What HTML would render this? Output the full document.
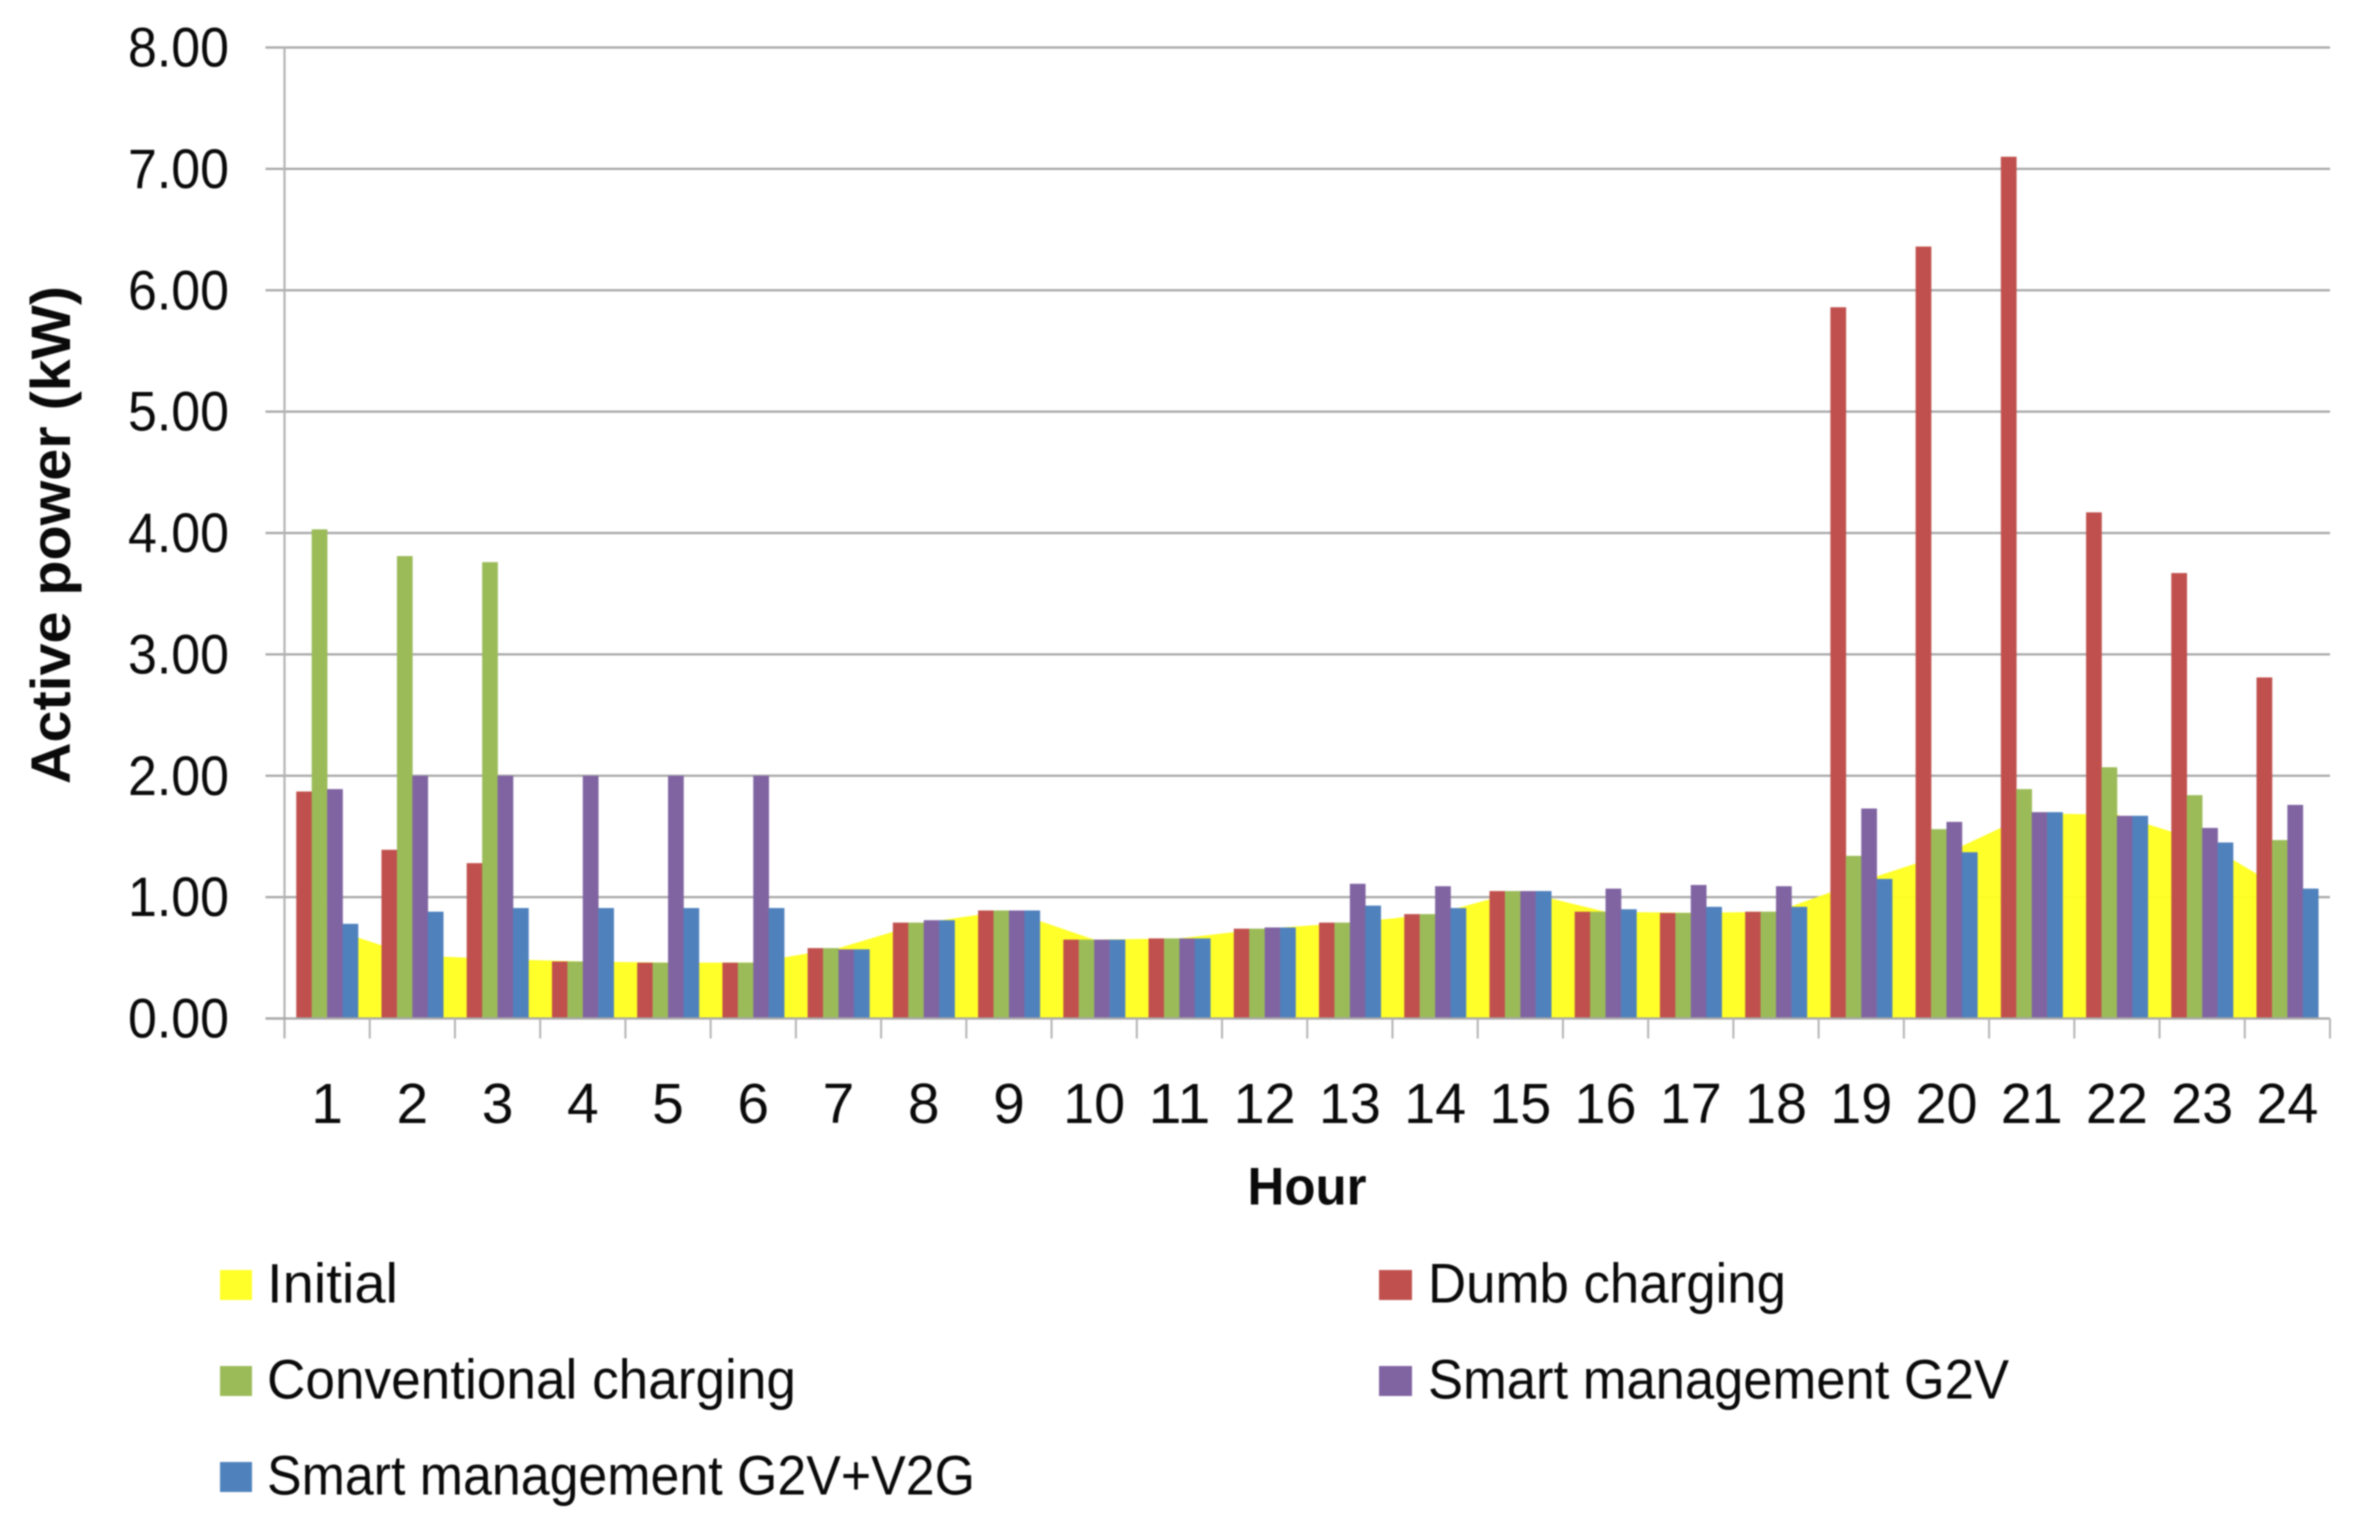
<!DOCTYPE html>
<html lang="en">
<head>
<meta charset="utf-8">
<title>Active power by hour</title>
<style>
html,body{margin:0;padding:0;background:#fff;width:2358px;height:1530px;overflow:hidden}
svg{display:block;filter:blur(0.7px)}
text{font-family:"Liberation Sans",sans-serif;fill:#0a0a0a}
</style>
</head>
<body>
<svg id="chart" xmlns="http://www.w3.org/2000/svg" width="2358" height="1530" viewBox="0 0 2358 1530">
  <rect x="0" y="0" width="2358" height="1530" fill="#fff"/>
  <g id="grid"></g>
  <g id="area"></g>
  <g id="bars"></g>
  <g id="axes"></g>
  <text transform="translate(70,535) rotate(-90)" text-anchor="middle" font-size="56" font-weight="700" textLength="498" lengthAdjust="spacingAndGlyphs">Active power (kW)</text>
  <text x="1307" y="1204.5" text-anchor="middle" font-size="53" font-weight="700" textLength="119" lengthAdjust="spacingAndGlyphs">Hour</text>
  <g>
    <g>
      <rect x="220" y="1270" width="32" height="30" fill="#ffff2a"/>
      <text x="267" y="1302.5" font-size="56" textLength="131" lengthAdjust="spacingAndGlyphs">Initial</text>
    </g>
    <g>
      <rect x="1379" y="1270" width="33" height="30" fill="#c0504d"/>
      <text x="1428" y="1302.5" font-size="56" textLength="358" lengthAdjust="spacingAndGlyphs">Dumb charging</text>
    </g>
    <g>
      <rect x="220" y="1366" width="32" height="30" fill="#9bbb59"/>
      <text x="267" y="1398.5" font-size="56" textLength="529" lengthAdjust="spacingAndGlyphs">Conventional charging</text>
    </g>
    <g>
      <rect x="1379" y="1366" width="33" height="30" fill="#8064a2"/>
      <text x="1428" y="1398.5" font-size="56" textLength="581" lengthAdjust="spacingAndGlyphs">Smart management G2V</text>
    </g>
    <g>
      <rect x="220" y="1462" width="32" height="30" fill="#4f81bd"/>
      <text x="267" y="1494.5" font-size="56" textLength="708" lengthAdjust="spacingAndGlyphs">Smart management G2V+V2G</text>
    </g>
  </g>
</svg>
<script>
const hours = [1,2,3,4,5,6,7,8,9,10,11,12,13,14,15,16,17,18,19,20,21,22,23,24];
const yTicks = ["0.00","1.00","2.00","3.00","4.00","5.00","6.00","7.00","8.00"];
const yTickValues = [0,1,2,3,4,5,6,7,8];
const initial = [0.75,0.52,0.49,0.47,0.46,0.46,0.58,0.79,0.89,0.65,0.66,0.74,0.79,0.86,1.05,0.88,0.87,0.88,1.13,1.36,1.69,1.68,1.46,1.04];
const dumbCharging = [1.87,1.39,1.28,0.47,0.46,0.46,0.58,0.79,0.89,0.65,0.66,0.74,0.79,0.86,1.05,0.88,0.87,0.88,5.86,6.36,7.10,4.17,3.67,2.81];
const conventionalCharging = [4.03,3.81,3.76,0.47,0.46,0.46,0.58,0.79,0.89,0.65,0.66,0.74,0.79,0.86,1.05,0.88,0.87,0.88,1.34,1.56,1.89,2.07,1.84,1.47];
const smartG2V = [1.89,2.00,2.00,2.00,2.00,2.00,0.57,0.81,0.89,0.65,0.66,0.75,1.11,1.09,1.05,1.07,1.10,1.09,1.73,1.62,1.70,1.67,1.57,1.76];
const smartG2VV2G = [0.78,0.88,0.91,0.91,0.91,0.91,0.57,0.81,0.89,0.65,0.66,0.75,0.93,0.91,1.05,0.90,0.92,0.92,1.15,1.37,1.70,1.67,1.45,1.07];

const NS = 'http://www.w3.org/2000/svg';
const plot = {left: 284.5, right: 2330, top: 47.5, bottom: 1018.5};
const yMax = 8;
const catWidth = (plot.right - plot.left) / hours.length;
const barWidth = catWidth * 0.181;
function xCenter(i) { return plot.left + catWidth * (i + 0.5); }
function yPos(v) { return plot.bottom - (v / yMax) * (plot.bottom - plot.top); }
function make(parent, tag, attrs) {
  const el = document.createElementNS(NS, tag);
  for (const k in attrs) el.setAttribute(k, attrs[k]);
  parent.appendChild(el);
  return el;
}
const gridG = document.getElementById('grid');
const areaG = document.getElementById('area');
const barsG = document.getElementById('bars');
const axesG = document.getElementById('axes');

yTickValues.forEach(function (v, i) {
  const y = yPos(v);
  if (v > 0) {
    const line = make(gridG, 'line', {x1: plot.left, x2: plot.right, y1: y, y2: y, stroke: '#a8a8a8', 'stroke-width': 2.2});
    
    
  }
  const tick = make(axesG, 'line', {x1: plot.left - 19, x2: plot.left, y1: y, y2: y, stroke: '#a8a8a8', 'stroke-width': 2.2});
  
  
  const label = make(axesG, 'text', {x: 229, y: y + 19, 'text-anchor': 'end', 'font-size': 56, textLength: 101, lengthAdjust: 'spacingAndGlyphs'});
  label.textContent = yTicks[i];
  
  
});

const areaPoints = [];
areaPoints.push(xCenter(0) + ',' + plot.bottom);
initial.forEach(function (v, i) { areaPoints.push(xCenter(i) + ',' + yPos(v)); });
areaPoints.push(xCenter(initial.length - 1) + ',' + plot.bottom);
const areaShape = make(areaG, 'polygon', {points: areaPoints.join(' '), fill: '#ffff1e', 'fill-opacity': 0.95});



const seriesList = [dumbCharging, conventionalCharging, smartG2V, smartG2VV2G];
const seriesNames = ['dumb-charging', 'conventional-charging', 'smart-g2v', 'smart-g2v-v2g'];
const seriesColors = ['#c0504d', '#9bbb59', '#8064a2', '#4f81bd'];
seriesList.forEach(function (values, s) {
  values.forEach(function (v, i) {
    const x = xCenter(i) + (s - 2) * barWidth;
    const bar = make(barsG, 'rect', {x: x, y: yPos(v), width: barWidth + 0.3, height: plot.bottom - yPos(v), fill: seriesColors[s]});
    
    
  });
});

const yAxis = make(axesG, 'line', {x1: plot.left, x2: plot.left, y1: plot.top, y2: plot.bottom + 20, stroke: '#b4b4b4', 'stroke-width': 2.2});


const xAxis = make(axesG, 'line', {x1: plot.left - 19, x2: plot.right, y1: plot.bottom, y2: plot.bottom, stroke: '#a8a8a8', 'stroke-width': 2.2});



hours.forEach(function (h, i) {
  const tx = plot.left + catWidth * (i + 1);
  const tick = make(axesG, 'line', {x1: tx, x2: tx, y1: plot.bottom, y2: plot.bottom + 20, stroke: '#b4b4b4', 'stroke-width': 2});
  
  
  const attrs = {x: xCenter(i), y: 1123, 'text-anchor': 'middle', 'font-size': 57};
  if (h >= 10) { attrs.textLength = 62; attrs.lengthAdjust = 'spacingAndGlyphs'; }
  const label = make(axesG, 'text', attrs);
  label.textContent = String(h);
  
  
});
</script>
</body>
</html>
